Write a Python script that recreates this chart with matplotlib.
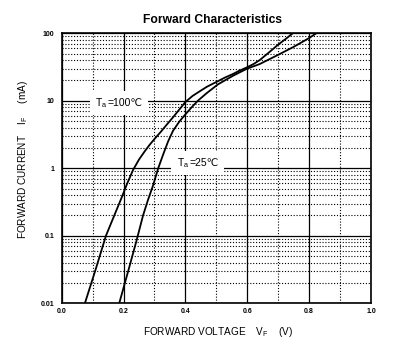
import matplotlib
matplotlib.use("Agg")
import matplotlib.pyplot as plt
from matplotlib.ticker import FixedLocator, LogLocator, NullFormatter
from matplotlib.offsetbox import TextArea, HPacker, AnnotationBbox

plt.rcParams['font.family'] = ['Liberation Sans', 'DejaVu Sans']
plt.rcParams['mathtext.fontset'] = 'custom'
plt.rcParams['mathtext.rm'] = 'Liberation Sans'
plt.rcParams['mathtext.it'] = 'Liberation Sans'

# Data (V in volts, I in mA)
v_100 = [0.075, 0.11, 0.143, 0.17, 0.194, 0.212, 0.231, 0.25, 0.269, 0.285, 0.301,
         0.32, 0.339, 0.36, 0.38, 0.40, 0.423, 0.446, 0.47, 0.50, 0.527, 0.554,
         0.575, 0.597, 0.62, 0.64, 0.67, 0.70, 0.725, 0.747]
i_100 = [0.01, 0.032, 0.1, 0.2, 0.37, 0.6, 0.95, 1.35, 1.8, 2.25, 2.75,
         3.45, 4.4, 5.7, 7.4, 9.6, 11.8, 13.8, 16.2, 19, 22, 25,
         28, 31, 35, 40, 52, 68, 83, 100]

v_25 = [0.186, 0.215, 0.242, 0.263, 0.279, 0.295, 0.312, 0.328, 0.344, 0.36, 0.38,
        0.40, 0.42, 0.44, 0.468, 0.505, 0.554, 0.597, 0.64, 0.70, 0.75, 0.80, 0.823]
i_25 = [0.01, 0.03, 0.085, 0.2, 0.34, 0.55, 1.0, 1.6, 2.5, 3.6, 4.9,
        6.3, 8.0, 10, 12.9, 17.5, 23.5, 29.6, 35, 48, 63, 85, 100]

x_ticks = [0.0, 0.2, 0.4, 0.6, 0.8, 1.0]
x_labels = ['0.0', '0.2', '0.4', '0.6', '0.8', '1.0']
x_minor = [0.1, 0.3, 0.5, 0.7, 0.9]
y_ticks = [0.01, 0.1, 1, 10, 100]
y_labels = ['0.01', '0.1', '1', '10', '100']

fig = plt.figure(figsize=(4.04, 3.55), dpi=100)
ax = fig.add_axes([0.1527, 0.1456, 0.7656, 0.7606])
ax.set_yscale('log')
ax.set_xlim(0, 1.0)
ax.set_ylim(0.01, 100)

ax.set_xticks(x_ticks)
ax.set_xticklabels(x_labels)
ax.set_yticks(y_ticks)
ax.set_yticklabels(y_labels)
ax.xaxis.set_minor_locator(FixedLocator(x_minor))
ax.yaxis.set_minor_locator(LogLocator(base=10, subs=range(2, 10), numticks=20))
ax.yaxis.set_minor_formatter(NullFormatter())

ax.grid(which='major', color='black', linestyle='-', linewidth=0.9)
ax.grid(which='minor', color='black', linestyle=(0, (1, 1.6)), linewidth=0.8)
ax.tick_params(which='both', length=0, labelsize=5)
ax.tick_params(axis='y', pad=5.5)
ax.tick_params(axis='x', pad=3.6)
for lab in ax.get_xticklabels() + ax.get_yticklabels():
    lab.set_fontweight('bold')
for s in ax.spines.values():
    s.set_linewidth(1.2)
    s.set_color('black')

ax.plot(v_100, i_100, color='black', linewidth=1.3, zorder=3, solid_joinstyle='round')
ax.plot(v_25, i_25, color='black', linewidth=1.3, zorder=3, solid_joinstyle='round')


def temp_label(xy, temp_text):
    fs = 7.5
    t1 = TextArea(r'T$_{\mathregular{a}}$', textprops=dict(fontsize=fs))
    t2 = TextArea(temp_text, textprops=dict(fontsize=fs,
                                            family=['Liberation Sans', 'DejaVu Sans']))
    box = HPacker(children=[t1, t2], align='baseline', pad=0, sep=0)
    ab = AnnotationBbox(box, xy, xycoords='data', frameon=True, pad=0.5,
                        fontsize=fs, box_alignment=(0.5, 0.5),
                        bboxprops=dict(facecolor='white', edgecolor='none'))
    ab.set_zorder(4)
    ax.add_artist(ab)


temp_label((0.186, 9.3), '=100℃')
temp_label((0.439, 1.2), '=25℃')

fig.text(0.527, 0.943, 'Forward Characteristics', fontsize=8.7, fontweight='bold',
         ha='center', va='center')
fig.text(0.54, 0.065, r'FORWARD VOLTAGE    V$_{\mathregular{F}}$    (V)', fontsize=7.2,
         ha='center', va='center')
fig.text(0.057, 0.55, r'FORWARD CURRENT    I$_{\mathregular{F}}$     (mA)', fontsize=7.2,
         ha='center', va='center', rotation=90)

fig.savefig('out.png', dpi=100)
